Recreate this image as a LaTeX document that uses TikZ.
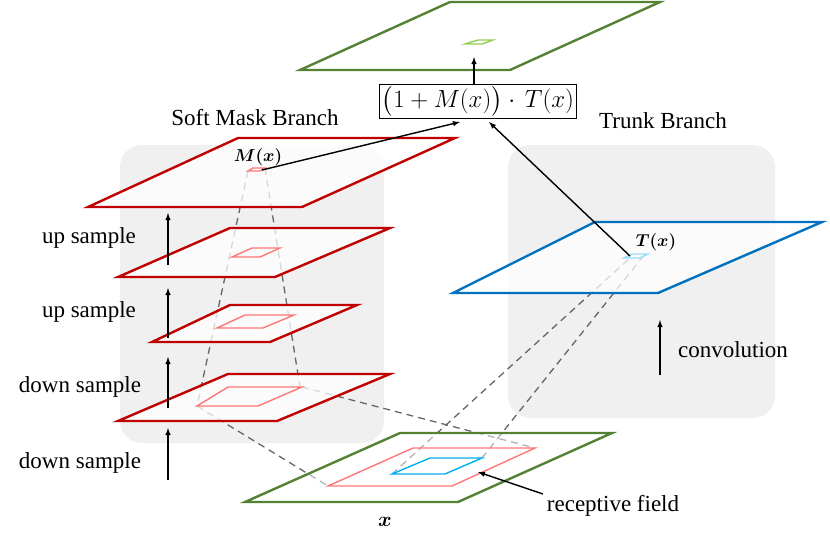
\documentclass[tikz,border=0pt]{standalone}
\usepackage{fontspec}
\setmainfont{Liberation Serif}
\usepackage{amsmath}
\begin{document}
\begin{tikzpicture}[x=1pt,y=-1pt,
  lbl/.style={font=\fontsize{23}{26}\selectfont},
  plane/.style={line width=2.4pt,fill=white,fill opacity=0.75,line join=miter},
  inner/.style={line width=1.4pt},
  dsh/.style={gray!80!black,line width=1.3pt,dash pattern=on 7pt off 5pt},
  arr/.style={-latex,line width=1.4pt},
  panel/.style={fill=gray!12,draw=none,rounded corners=22pt}]
\useasboundingbox (0,0) rectangle (830,539);
\definecolor{dred}{RGB}{192,0,0}
\definecolor{pinkc}{RGB}{255,120,120}
\definecolor{dgreen}{RGB}{84,130,53}
\definecolor{lgreen}{RGB}{146,208,80}
\definecolor{bluec}{RGB}{0,112,192}
\definecolor{cyanc}{RGB}{0,176,240}
\fill[panel] (120,145) rectangle (384,443);
\fill[panel] (508,145) rectangle (775,418);
% dashed lines (behind planes)
\draw[dsh] (248,171) -- (197,406);
\draw[dsh] (265,168) -- (300,387);
\draw[dsh] (197,406) -- (328,486);
\draw[dsh] (302,387) -- (535,448);
\draw[dsh] (392,474) -- (630,258);
\draw[dsh] (482,458) -- (645,254);
% top output plane
\draw[plane,draw=dgreen] (300,70) -- (450,2) -- (660,2) -- (510,70) -- cycle;
\draw[lgreen,inner] (465,44) -- (478,40) -- (493,40) -- (482,44) -- cycle;
% red planes
\draw[plane,draw=dred] (88,207) -- (238,138) -- (455,138) -- (302,207) -- cycle;
\draw[pinkc,inner] (248,171) -- (253,168) -- (265,168) -- (260,171) -- cycle;
\draw[plane,draw=dred] (118,277) -- (230,228) -- (390,228) -- (275,277) -- cycle;
\draw[pinkc,inner] (232,257) -- (252,248) -- (280,248) -- (260,257) -- cycle;
\draw[plane,draw=dred] (152,342) -- (230,305) -- (357,305) -- (270,342) -- cycle;
\draw[pinkc,inner] (217,328) -- (245,315) -- (294,315) -- (263,328) -- cycle;
\draw[plane,draw=dred] (118,421) -- (228,374) -- (390,374) -- (277,421) -- cycle;
\draw[pinkc,inner] (197,406) -- (228,387) -- (302,387) -- (258,406) -- cycle;
% blue plane
\draw[plane,draw=bluec] (453,293) -- (595,222) -- (822,222) -- (658,293) -- cycle;
\draw[cyanc!40,inner] (624,258) -- (632,254) -- (648,254) -- (640,258) -- cycle;
% input plane
\draw[plane,draw=dgreen,fill opacity=0.5] (245,502) -- (400,433) -- (612,433) -- (458,502) -- cycle;
\draw[pinkc,inner] (328,486) -- (413,448) -- (535,448) -- (452,486) -- cycle;
\draw[cyanc,inner] (392,474) -- (430,458) -- (482,458) -- (445,474) -- cycle;
% labels
\node[lbl] (smb) at (255,118) {Soft Mask Branch};
\node[lbl] (tb) at (663,121) {Trunk Branch};
\node[font=\fontsize{17}{20}\selectfont] (mx) at (258,157) {$\boldsymbol{M(x)}$};
\node[font=\fontsize{17}{20}\selectfont] (tx) at (656,242) {$\boldsymbol{T(x)}$};
\node[font=\fontsize{22}{24}\selectfont] (xin) at (385,522) {$\boldsymbol{x}$};
\node[draw,line width=1pt,inner sep=2pt,minimum width=194pt,minimum height=34pt,font=\fontsize{23}{26}\selectfont] (f) at (478,101) {$\big(1+M(x)\big)\cdot\,T(x)$};
\coordinate (mpt) at (262,170);
\coordinate (tpt) at (630,256);
\coordinate (out) at (474,57);
\draw[arr] (mpt) -- (460,122);
\draw[arr] (tpt) -- (489,122);
\draw[arr] (474,84) -- (out);
% side arrows
\coordinate (a1) at (168,480); \coordinate (a1e) at (168,428);
\coordinate (a2) at (168,408); \coordinate (a2e) at (168,357);
\coordinate (a3) at (168,338); \coordinate (a3e) at (168,288);
\coordinate (a4) at (168,265); \coordinate (a4e) at (168,213);
\draw[arr] (a1) -- (a1e);
\draw[arr] (a2) -- (a2e);
\draw[arr] (a3) -- (a3e);
\draw[arr] (a4) -- (a4e);
\node[lbl] (l1) at (80,463) {down sample};
\node[lbl] (l2) at (80,387) {down sample};
\node[lbl] (l3) at (89,312) {up sample};
\node[lbl] (l4) at (89,238) {up sample};
\coordinate (c1) at (660,375); \coordinate (c1e) at (660,320);
\draw[arr] (c1) -- (c1e);
\node[lbl] (conv) at (733,350) {convolution};
\node[lbl] (rf) at (613,506) {receptive field};
\coordinate (rfp) at (478,472);
\draw[arr] (543,494) -- (rfp);
\end{tikzpicture}
\end{document}
